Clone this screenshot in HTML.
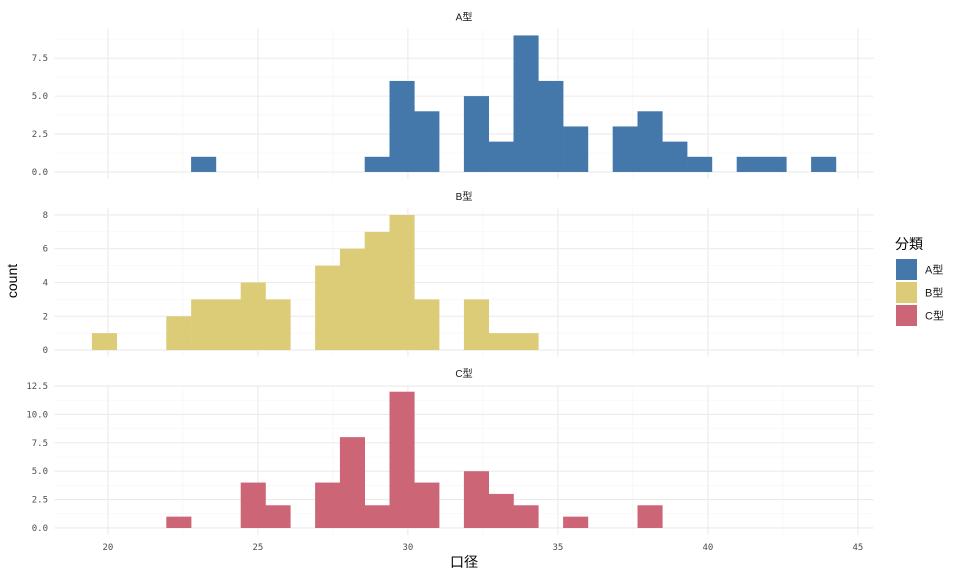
<!DOCTYPE html>
<html><head><meta charset="utf-8"><style>
body{margin:0;background:#fff}
svg{display:block}
text{font-family:"Liberation Sans","Noto Sans CJK JP",sans-serif}
.tick{font-family:"DejaVu Sans Mono","Liberation Mono",monospace;font-size:9px;fill:#4d4d4d}
</style></head><body>
<svg id="chart" width="960" height="576"></svg>
<script>
const bins0 = 19.4667;
const binW = 0.82667;
const countsA = [0,0,0,0,1,0,0,0,0,0,0,1,6,4,0,5,2,9,6,3,0,3,4,2,1,0,1,1,0,1];
const countsB = [1,0,0,2,3,3,4,3,0,5,6,7,8,3,0,3,1,1,0,0,0,0,0,0,0,0,0,0,0,0];
const countsC = [0,0,0,1,0,0,4,2,0,4,8,2,12,4,0,5,3,2,0,1,0,0,2,0,0,0,0,0,0,0];
const xTicks = [20,25,30,35,40,45];
const yTicksA = [0,2.5,5,7.5];
const yTicksB = [0,2,4,6,8];
const yTicksC = [0,2.5,5,7.5,10,12.5];
const facets = [
 {name:'A型',counts:countsA,ticks:yTicksA,color:'#4477AA',top:28.6,bottom:178.8,fmt:1,step:1.25,max:9},
 {name:'B型',counts:countsB,ticks:yTicksB,color:'#DDCC77',top:208.2,bottom:356.8,fmt:0,step:1,max:8},
 {name:'C型',counts:countsC,ticks:yTicksC,color:'#CC6677',top:384.9,bottom:534.8,fmt:1,step:1.25,max:12.5}
];
const svg=document.getElementById('chart');
const NS='http://www.w3.org/2000/svg';
function mk(t,a,p){const e=document.createElementNS(NS,t);for(const k in a)e.setAttribute(k,a[k]);(p||svg).appendChild(e);return e;}
const PL=54.5,PR=873.5,xmin=18.22,xmax=45.52;
const X=v=>PL+(v-xmin)/(xmax-xmin)*(PR-PL);
facets.forEach((f,fi)=>{
  const allMax=Math.max(...f.counts);
  const lo=-0.05*allMax,hi=allMax*1.05;
  const Y=v=>f.bottom-(v-lo)/(hi-lo)*(f.bottom-f.top);
  const g=mk('g',{});
  
  
  // minor grid
  for(let v=2.5;v<=47.5;v+=5){if(X(v)>PL&&X(v)<PR){const l=mk('line',{x1:X(v),x2:X(v),y1:f.top,y2:f.bottom,stroke:'#f4f4f4','stroke-width':0.6},g);}}
  for(let i=0;i<f.ticks.length;i++){const a=f.ticks[i],b=f.ticks[i+1]!==undefined?f.ticks[i+1]:a+(f.ticks[1]-f.ticks[0]);const m=(a+b)/2;if(Y(m)>f.top){const l=mk('line',{x1:PL,x2:PR,y1:Y(m),y2:Y(m),stroke:'#f4f4f4','stroke-width':0.6},g);}}
  xTicks.forEach(v=>{const l=mk('line',{x1:X(v),x2:X(v),y1:f.top,y2:f.bottom,stroke:'#ebebeb','stroke-width':1.1},g);});
  f.ticks.forEach(v=>{
    const l=mk('line',{x1:PL,x2:PR,y1:Y(v),y2:Y(v),stroke:'#ebebeb','stroke-width':1.1},g);
    
    const t=mk('text',{x:48,y:Y(v)+3,'text-anchor':'end',class:'tick'},g);
    t.textContent=f.fmt?v.toFixed(1):String(v);
    
  });
  f.counts.forEach((c,i)=>{if(c>0){
    const x0=X(bins0+i*binW),x1=X(bins0+(i+1)*binW);
    const r=mk('rect',{x:x0,y:Y(c),width:x1-x0+0.3,height:Y(0)-Y(c),fill:f.color},g);
    
  }});
  const st=mk('text',{x:(PL+PR)/2,y:f.top-8,'text-anchor':'middle','font-size':10,fill:'#1a1a1a'},g);
  st.textContent=f.name;
  
});
xTicks.forEach(v=>{const t=mk('text',{x:X(v),y:550,'text-anchor':'middle',class:'tick'});t.textContent=v;});
const xt=mk('text',{x:(PL+PR)/2,y:567,'text-anchor':'middle','font-size':14,fill:'#000'});xt.textContent='口径';

const yt=mk('text',{x:17,y:281,'text-anchor':'middle','font-size':14,fill:'#000',transform:'rotate(-90 17 281)'});yt.textContent='count';

const lg=mk('g',{});
const lt=mk('text',{x:895,y:249,'font-size':14,fill:'#000'},lg);lt.textContent='分類';

facets.forEach((f,i)=>{
  const r=mk('rect',{x:896,y:259+i*23,width:21,height:21,fill:f.color},lg);
  
  const t=mk('text',{x:925,y:273.5+i*23,'font-size':11,fill:'#1a1a1a'},lg);t.textContent=f.name;
  
});
</script>
</body></html>
